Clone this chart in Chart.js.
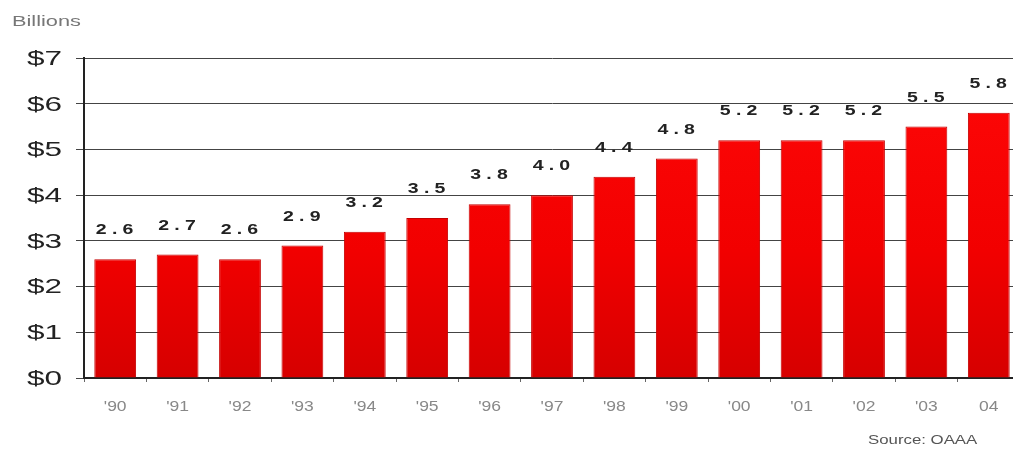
<!DOCTYPE html>
<html>
<head>
<meta charset="utf-8">
<script src="https://cdn.jsdelivr.net/npm/chart.js@4.4.1/dist/chart.umd.min.js"></script>
<style>
  html, body { margin: 0; padding: 0; background: #fff; overflow: hidden; }
  #wrap { position: absolute; left: 0; top: 0; width: 1020px; height: 452px; }
  #unit { position: absolute; left: 12px; top: 12px; font: 15px "Liberation Sans", Arial, sans-serif; color: #777; transform: scaleX(1.45); transform-origin: left center; }
  #source { position: absolute; left: 868px; top: 433px; font: 12px "Liberation Sans", Arial, sans-serif; color: #555; transform: scaleX(1.4); transform-origin: left center; }
</style>
</head>
<body>
<div id="wrap"><canvas id="c"></canvas></div>
<div id="unit">Billions</div>
<div id="source">Source: OAAA</div>
<script>
const categories = ["'90","'91","'92","'93","'94","'95","'96","'97","'98","'99","'00","'01","'02","'03","04"];
const revenue = [2.6, 2.7, 2.6, 2.9, 3.2, 3.5, 3.8, 4.0, 4.4, 4.8, 5.2, 5.2, 5.2, 5.5, 5.8];
const yTickValues = [0, 1, 2, 3, 4, 5, 6, 7];
const yTickLabels = ["$0","$1","$2","$3","$4","$5","$6","$7"];

const FONT = '"Liberation Sans", Arial, sans-serif';

function stretchedText(ctx, text, x, y, sx, align) {
  ctx.save();
  ctx.translate(x, y);
  ctx.scale(sx, 1);
  ctx.textAlign = align;
  ctx.fillText(text, 0, 0);
  ctx.restore();
}

const textLayer = {
  id: 'textLayer',
  afterDraw(chart) {
    const ctx = chart.ctx;
    const meta = chart.getDatasetMeta(0);
    const xs = chart.scales.x, ys = chart.scales.y;
    ctx.save();
    ctx.textBaseline = 'middle';

    // value labels above bars
    ctx.font = 'bold 15px ' + FONT;
    ctx.fillStyle = '#222';
    try { ctx.letterSpacing = '4px'; } catch (e) {}
    meta.data.forEach((bar, i) => {
      stretchedText(ctx, revenue[i].toFixed(1), bar.x + 2, bar.y - 29, 1.3, 'center');
    });
    try { ctx.letterSpacing = '0px'; } catch (e) {}

    // y tick labels
    ctx.font = '21px ' + FONT;
    ctx.fillStyle = '#222';
    yTickValues.forEach((v, i) => {
      stretchedText(ctx, yTickLabels[i], 62, ys.getPixelForValue(v) + 1, 1.5, 'right');
    });

    // x tick labels
    ctx.font = '14px ' + FONT;
    ctx.fillStyle = '#888';
    categories.forEach((c, i) => {
      stretchedText(ctx, c, xs.getPixelForValue(i), 407, 1.25, 'center');
    });
    ctx.restore();
  }
};

function barFill(context) {
  const chart = context.chart;
  const area = chart.chartArea;
  if (!area) return '#f00';
  const g = chart.ctx.createLinearGradient(0, area.top, 0, area.bottom);
  g.addColorStop(0, '#ff0808');
  g.addColorStop(0.6, '#f20000');
  g.addColorStop(1, '#d60000');
  return g;
}

new Chart(document.getElementById('c'), {
  type: 'bar',
  data: {
    labels: categories,
    datasets: [{
      data: revenue,
      backgroundColor: barFill,
      borderColor: '#c40000',
      borderWidth: 1,
      barPercentage: 0.67,
      categoryPercentage: 1.0
    }]
  },
  options: {
    responsive: true,
    maintainAspectRatio: false,
    animation: false,
    layout: { padding: { top: 58, left: 0, right: 0, bottom: 0 } },
    plugins: { legend: { display: false }, tooltip: { enabled: false } },
    scales: {
      x: {
        afterFit(s) { s.height = 74; },
        grid: { offset: true, drawOnChartArea: false, drawTicks: true, tickLength: 4, color: '#666', lineWidth: 1 },
        border: { display: true, color: '#222', width: 2 },
        ticks: { display: false }
      },
      y: {
        min: 0, max: 7,
        afterFit(s) { s.width = 84; },
        grid: { color: '#444', lineWidth: 1, drawTicks: true, tickLength: 8 },
        border: { display: true, color: '#222', width: 2 },
        ticks: { stepSize: 1, display: false }
      }
    }
  },
  plugins: [textLayer]
});
</script>
</body>
</html>
